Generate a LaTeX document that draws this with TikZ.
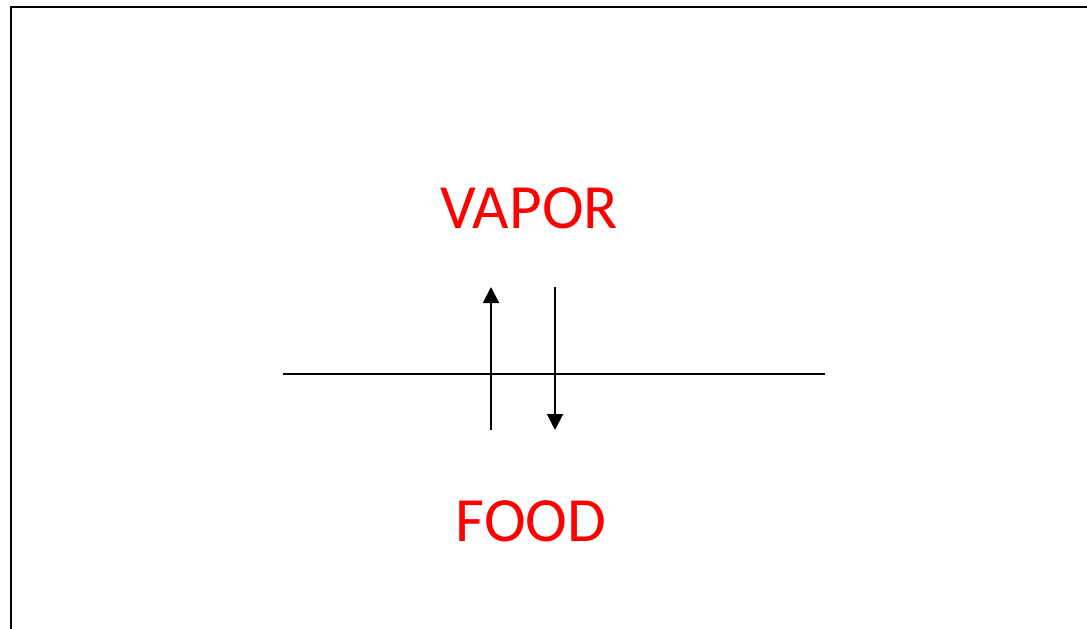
\documentclass[tikz,border=0pt]{standalone}
\usepackage{fontspec}
\setmainfont{Carlito}
\usetikzlibrary{arrows.meta}

\begin{document}
\begin{tikzpicture}[
    x=1pt, y=-1pt,
    phase/.style={text=red, font=\fontsize{63}{70}\selectfont, inner sep=0pt, anchor=base},
    arr/.style={-{Triangle[width=16pt, length=16pt]}, line width=2pt}
]
\useasboundingbox (0,0) rectangle (1087,629);
\draw[line width=2pt] (11,640) -- (11,7) -- (1100,7);

\node[phase] (vapor) at (529,228) {VAPOR};
\node[phase] (food) at (531,541) {FOOD};

\coordinate (s1) at (283,374);
\coordinate (s2) at (825,374);
\draw[line width=1.6pt] (s1) -- (s2);

\coordinate (up1) at (491,430);
\coordinate (up2) at (491,287);
\coordinate (dn1) at (555,287);
\coordinate (dn2) at (555,430);
\draw[arr] (up1) -- (up2);
\draw[arr] (dn1) -- (dn2);
\end{tikzpicture}
\end{document}
